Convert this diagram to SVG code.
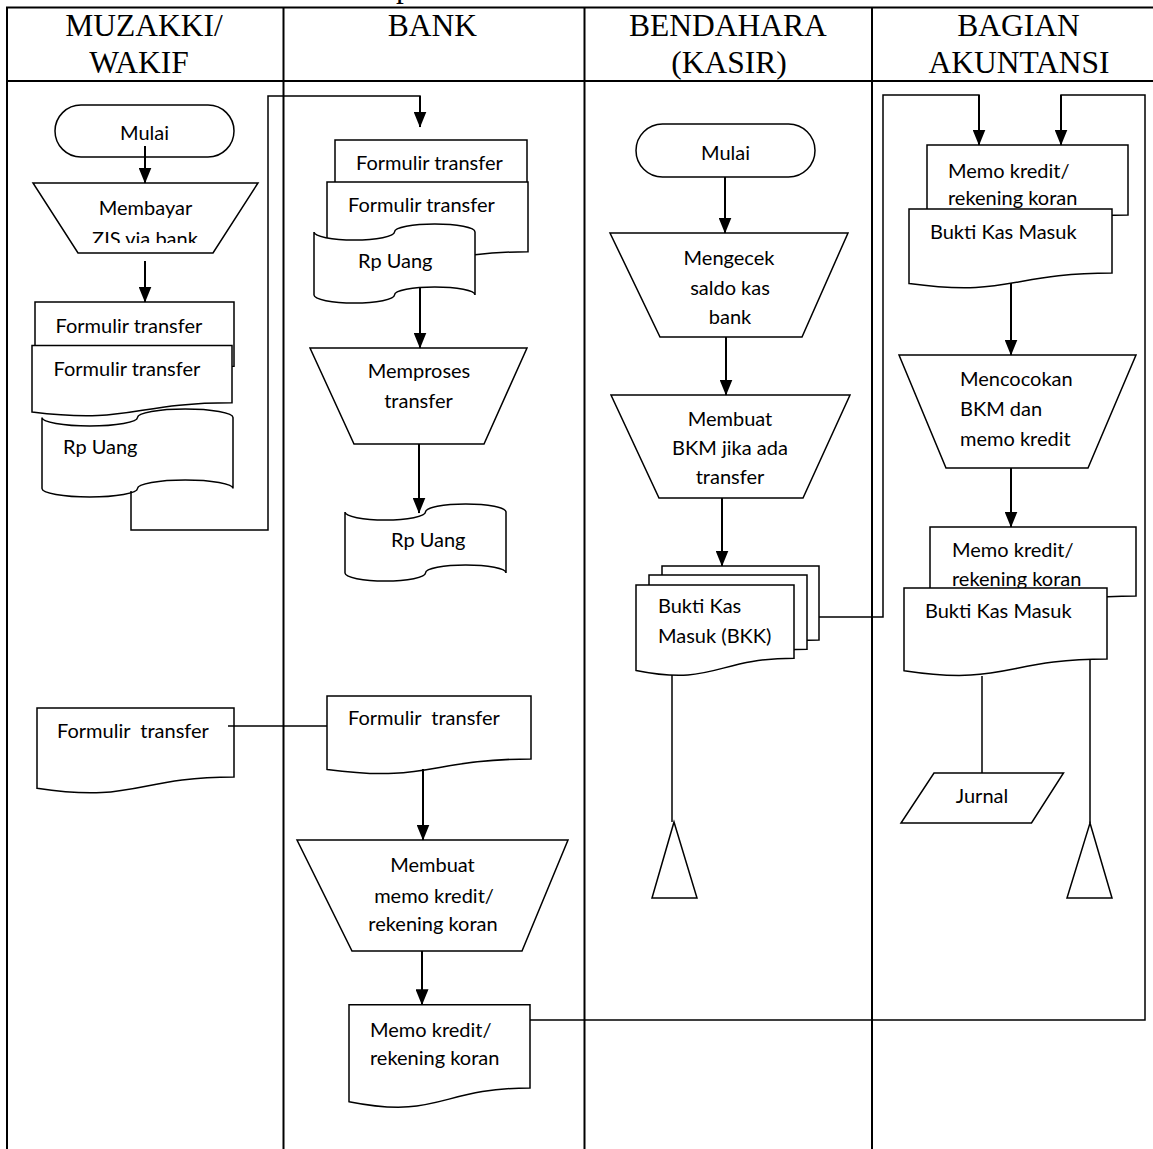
<svg xmlns="http://www.w3.org/2000/svg" width="1153" height="1149" viewBox="0 0 1153 1149">
<style>
.lane{fill:none;stroke:#000;stroke-width:2}
.s{fill:#fff;stroke:#000;stroke-width:1.5}
.cn{fill:none;stroke:#000;stroke-width:1.5}
.ar{fill:none;stroke:#000;stroke-width:2;marker-end:url(#ah)}
.h{font-family:"Liberation Serif","Times New Roman",serif;font-size:31.5px;text-anchor:middle;fill:#000}
.t{font-family:Lato,"Open Sans",sans-serif;font-size:20px;fill:#000}
.c{text-anchor:middle}
</style>
<defs>
<marker id="ah" markerWidth="16" markerHeight="13" refX="15.5" refY="6.5" orient="auto" markerUnits="userSpaceOnUse"><path d="M0,0 L16,6.5 L0,13 Z" fill="#000"/></marker>
<clipPath id="clipZ"><rect x="0" y="0" width="300" height="243"/></clipPath>
</defs>
<rect width="1153" height="1149" fill="#fff"/>

<g id="lanes">
<path class="lane" d="M6,7.5 H1153 M6,81 H1153 M7,7.5 V1149 M283.5,7.5 V1149 M584.5,7.5 V1149 M872,7.5 V1149"/>
<text class="h" x="396" y="-3" style="text-anchor:start">p</text>
<text class="h" x="144" y="36">MUZAKKI/</text>
<text class="h" x="139" y="73">WAKIF</text>
<text class="h" x="432.5" y="36">BANK</text>
<text class="h" x="728" y="36">BENDAHARA</text>
<text class="h" x="729" y="73">(KASIR)</text>
<text class="h" x="1018.5" y="36">BAGIAN</text>
<text class="h" x="1019" y="73">AKUNTANSI</text>
</g>

<!-- MUZAKKI lane -->
<g id="mulai1">
<rect class="s" x="55" y="105" width="179" height="52" rx="26" ry="26"/>
<text class="t c" x="144.5" y="140">Mulai</text>
</g>
<g id="membayar">
<path class="s" d="M33,183 H258 L213,253 H78 Z"/>
<text class="t c" x="145.5" y="215">Membayar</text>
<text class="t c" x="145" y="246" clip-path="url(#clipZ)">ZIS via bank</text>
</g>
<g id="muz-stack">
<path class="s" d="M35,302 H234 V366.2 C134.5,366.2 134.5,390.6 35,376.7 Z"/>
<text class="t" x="55.5" y="333">Formulir transfer</text>
<path class="s" d="M32,345.5 H232 V402.7 C132,402.7 132,424.4 32,412.1 Z"/>
<text class="t" x="53.5" y="376">Formulir transfer</text>
<path class="s" d="M42,417.5 A47.75,8.5 0 0 0 137.5,417.5 A47.75,8.5 0 0 1 233,417.5 V488.5 A47.75,8.5 0 0 0 137.5,488.5 A47.75,8.5 0 0 1 42,488.5 Z"/>
<text class="t" x="63" y="454">Rp Uang</text>
</g>
<g id="muz-formulir2">
<path class="s" d="M37,708 H234 V777 C135.5,777 135.5,803.2 37,788.3 Z"/>
<text class="t" x="57" y="738" xml:space="preserve">Formulir  transfer</text>
</g>

<!-- BANK lane -->
<g id="bank-stack">
<path class="s" d="M335,140 H527 V209.8 C431,209.8 431,236.3 335,221.3 Z"/>
<text class="t" x="356" y="170">Formulir transfer</text>
<path class="s" d="M327,182 H528 V251.8 C427.5,251.8 427.5,278.3 327,263.3 Z"/>
<text class="t" x="348" y="212">Formulir transfer</text>
<path class="s" d="M314,232 A40.25,8 0 0 0 394.5,232 A40.25,8 0 0 1 475,232 V295 A40.25,8 0 0 0 394.5,295 A40.25,8 0 0 1 314,295 Z"/>
<text class="t" x="358" y="268">Rp Uang</text>
</g>
<g id="memproses">
<path class="s" d="M310,348 H527 L484,444 H354 Z"/>
<text class="t c" x="419" y="378">Memproses</text>
<text class="t c" x="418.5" y="408">transfer</text>
</g>
<g id="bank-uang">
<path class="s" d="M345,512 A40.25,8 0 0 0 425.5,512 A40.25,8 0 0 1 506,512 V573 A40.25,8 0 0 0 425.5,573 A40.25,8 0 0 1 345,573 Z"/>
<text class="t" x="391" y="547">Rp Uang</text>
</g>
<g id="bank-formulir2">
<path class="s" d="M327,696 H531 V759 C429,759 429,783 327,769.4 Z"/>
<text class="t" x="348" y="725" xml:space="preserve">Formulir  transfer</text>
</g>
<g id="membuat-memo">
<path class="s" d="M297,840 H568 L522,951 H352 Z"/>
<text class="t c" x="432.5" y="872">Membuat</text>
<text class="t c" x="434" y="903">memo kredit/</text>
<text class="t c" x="433" y="931">rekening koran</text>
</g>
<g id="bank-memo">
<path class="s" d="M349,1004.7 H530 V1088 C439.5,1088 439.5,1119.7 349,1101.7 Z"/>
<text class="t" x="370" y="1037">Memo kredit/</text>
<text class="t" x="370" y="1065">rekening koran</text>
</g>

<!-- BENDAHARA lane -->
<g id="mulai2">
<rect class="s" x="636" y="124" width="179" height="53" rx="26.5" ry="26.5"/>
<text class="t c" x="725.5" y="160">Mulai</text>
</g>
<g id="mengecek">
<path class="s" d="M610,233 H848 L802,337 H660 Z"/>
<text class="t c" x="729" y="265">Mengecek</text>
<text class="t c" x="730" y="295">saldo kas</text>
<text class="t c" x="730" y="324">bank</text>
</g>
<g id="membuat-bkm">
<path class="s" d="M611,395 H850 L803,498 H659 Z"/>
<text class="t c" x="730" y="426">Membuat</text>
<text class="t c" x="730" y="455">BKM jika ada</text>
<text class="t c" x="730" y="484">transfer</text>
</g>
<g id="bkk-stack">
<path class="s" d="M662,566 H819 V640 C740.5,640 740.5,668.2 662,652.2 Z"/>
<path class="s" d="M649,575 H807 V649.3 C728,649.3 728,677.5 649,661.5 Z"/>
<path class="s" d="M636,585 H794 V658.3 C715,658.3 715,686.2 636,670.4 Z"/>
<text class="t" x="658" y="613">Bukti Kas</text>
<text class="t" x="658" y="643">Masuk (BKK)</text>
</g>
<g id="end-bendahara">
<path class="s" d="M674,822 L697,898 H652 Z"/>
</g>

<!-- AKUNTANSI lane -->
<g id="ak-stack1">
<path class="s" d="M927,145 H1128 V215 C1027.5,215 1027.5,241.6 927,226.5 Z"/>
<text class="t" x="948" y="178">Memo kredit/</text>
<text class="t" x="948" y="205">rekening koran</text>
<path class="s" d="M909,209 H1112 V273 C1010.5,273 1010.5,297.3 909,283.5 Z"/>
<text class="t" x="930" y="239">Bukti Kas Masuk</text>
</g>
<g id="mencocokan">
<path class="s" d="M899,355 H1136 L1088,468 H946 Z"/>
<text class="t" x="960" y="386">Mencocokan</text>
<text class="t" x="960" y="416">BKM dan</text>
<text class="t" x="960" y="446">memo kredit</text>
</g>
<g id="ak-stack2">
<path class="s" d="M930,527 H1136 V596 C1033,596 1033,622.2 930,607.3 Z"/>
<text class="t" x="952" y="557">Memo kredit/</text>
<text class="t" x="952" y="586">rekening koran</text>
<path class="s" d="M904,588 H1107 V659 C1005.5,659 1005.5,686 904,670.7 Z"/>
<text class="t" x="925" y="618">Bukti Kas Masuk</text>
</g>
<g id="jurnal">
<path class="s" d="M934,773 H1063.5 L1031.5,823 H901 Z"/>
<text class="t c" x="982" y="803">Jurnal</text>
</g>
<g id="end-akuntansi">
<path class="s" d="M1090,823 L1112,898 H1067 Z"/>
</g>

<g id="connectors">
<path class="ar" d="M145,146 V183"/>
<path class="ar" d="M145,261 V302"/>
<path class="cn" d="M131,491 V530 H268 V96 H420 V110"/>
<path class="ar" d="M420,96 V127"/>
<path class="cn" d="M228,726 H327"/>
<path class="ar" d="M420,288 V348"/>
<path class="ar" d="M419,444 V513"/>
<path class="ar" d="M423,769 V840"/>
<path class="ar" d="M422,951 V1004.7"/>
<path class="cn" d="M530,1020 H1145 V95 H1061 V110"/>
<path class="ar" d="M1061,95 V145"/>
<path class="ar" d="M725,177 V233"/>
<path class="ar" d="M726,337 V395"/>
<path class="ar" d="M722,498 V566"/>
<path class="cn" d="M819,617 H883 V95 H979 V110"/>
<path class="ar" d="M979,95 V145"/>
<path class="cn" d="M672,675 V822"/>
<path class="ar" d="M1011,283 V355"/>
<path class="ar" d="M1011,468 V527"/>
<path class="cn" d="M982,676 V773"/>
<path class="cn" d="M1090,659 V823"/>
</g>
</svg>
